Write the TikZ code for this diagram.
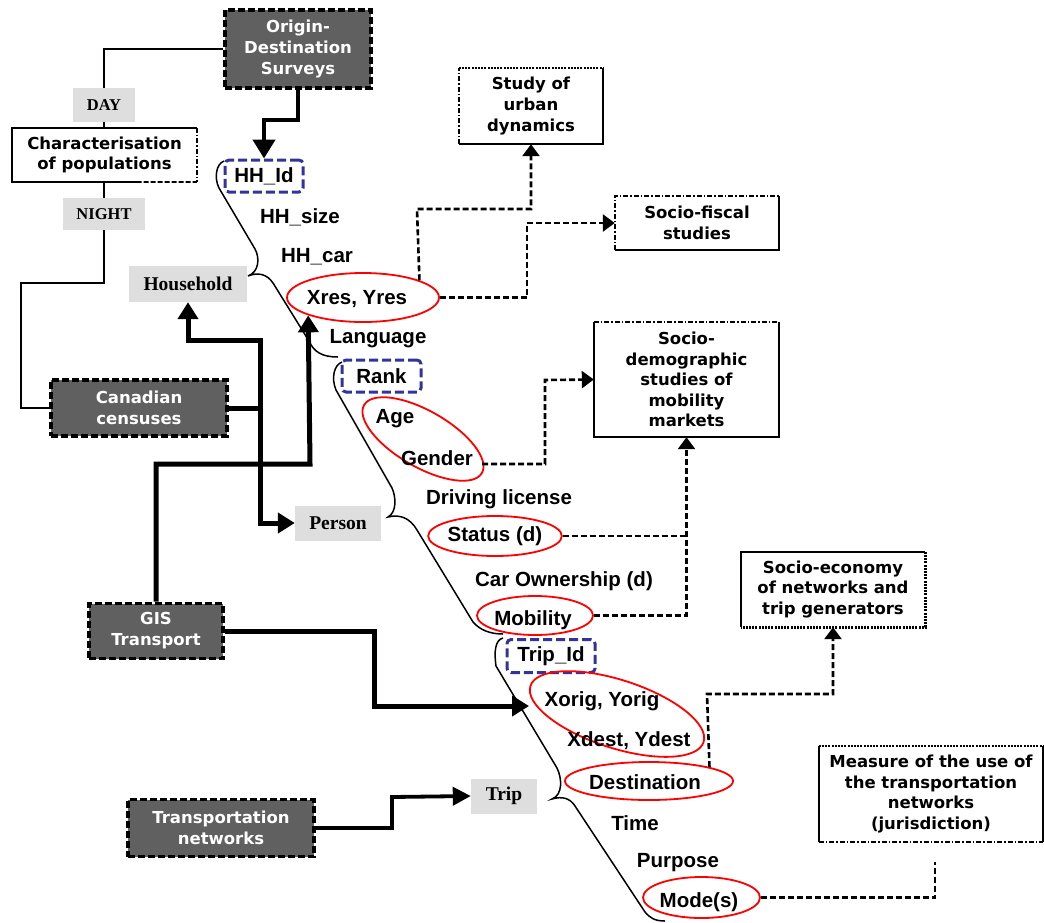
\documentclass[tikz,border=0pt]{standalone}
\usepackage{fontspec}
\setmainfont{Liberation Sans}
\newfontfamily\verd{DejaVu Sans}
\newfontfamily\tms{Liberation Serif}
\usetikzlibrary{shapes.geometric,arrows.meta,calc}
\definecolor{dgray}{RGB}{96,96,96}
\definecolor{lgray}{RGB}{222,222,222}
\definecolor{kblue}{RGB}{51,51,153}
\begin{document}
\begin{tikzpicture}[x=1pt,y=-1pt,
  darkbox/.style={fill=dgray, draw=black, line width=3.8pt, dash pattern=on 7pt off 3pt, text=white,
    font={\verd\bfseries\fontsize{16.5}{21}\selectfont}, align=center, inner sep=0pt},
  graylab/.style={fill=lgray, draw=none, inner sep=0pt, font={\tms\bfseries\fontsize{19.5}{22}\selectfont}},
  smalllab/.style={graylab, font={\tms\bfseries\fontsize{16.5}{20}\selectfont}},
  obox/.style={fill=white, draw=none, align=center, inner sep=0pt,
    font={\verd\bfseries\fontsize{16.5}{20.6}\selectfont}},
  attr/.style={inner sep=0pt, font={\bfseries\fontsize{20.5}{24}\selectfont}},
  keybox/.style={attr, draw=kblue, line width=3pt, dash pattern=on 9pt off 4pt, rounded corners=4pt},
  oval/.style={attr, ellipse, draw=red, line width=1.8pt},
  sedge/.style={line width=2.2pt},
  ddedge/.style={line width=2.2pt, dash pattern=on 5pt off 2pt on 1.5pt off 2pt},
  dotedge/.style={line width=2.6pt, dash pattern=on 2pt off 1.2pt},
  brace/.style={line width=1.5pt},
  thin/.style={line width=2pt},
  bigarrow/.style={line width=5pt, -{Triangle[length=17pt,width=20pt]}},
  odsarrow/.style={line width=4.5pt, -{Triangle[length=19pt,width=22pt]}},
  medarrow/.style={line width=3.8pt, -{Triangle[length=18pt,width=18pt]}},
  darrow/.style={line width=2.6pt, dash pattern=on 6pt off 3pt, -{Triangle[length=12pt,width=17pt]}},
  dline/.style={line width=2.6pt, dash pattern=on 6pt off 3pt}
]
\useasboundingbox (0,0) rectangle (1044,922);

% ---------- source boxes ----------
\node[darkbox, minimum width=146pt, minimum height=78pt] (ods) at (298,49) {Origin-\\Destination\\Surveys};
\node[darkbox, minimum width=176pt, minimum height=56pt] (cc) at (139,408) {Canadian\\censuses};
\node[darkbox, minimum width=134pt, minimum height=55pt] (gis) at (156,631) {GIS\\Transport};
\node[darkbox, minimum width=186pt, minimum height=57pt] (tn) at (221,828) {Transportation\\networks};

% ---------- gray labels ----------
\node[smalllab, minimum width=62pt, minimum height=34pt] (day) at (104,105) {DAY};
\node[smalllab, minimum width=82pt, minimum height=32pt] (night) at (104,214) {NIGHT};
\node[graylab, minimum width=118pt, minimum height=36pt] (hh) at (188,284) {Household};
\node[graylab, minimum width=86pt, minimum height=35pt] (person) at (338,523) {Person};
\node[graylab, minimum width=66pt, minimum height=35pt] (trip) at (504,796) {Trip};

% ---------- characterisation box ----------
\node[obox, minimum width=185pt, minimum height=54pt] (char) at (104.5,155) {Characterisation\\of populations};
\draw[sedge] (char.south east) -- (char.south west) -- (char.north west) -- (char.north east);
\draw[ddedge] (char.north east) -- (char.south east);
\draw[white, line width=2.8pt, dash pattern=on 2pt off 5pt] ($(char.south west)!0.7!(char.south east)$) -- (char.south east);

% ---------- outcome boxes ----------
\node[obox, minimum width=144pt, minimum height=76pt] (study) at (531,106) {Study of\\urban\\dynamics};
\draw[sedge] (study.north east) -- (study.south east) -- (study.south west);
\draw[ddedge] (study.south west) -- (study.north west);
\draw[dotedge] (study.north west) -- (study.north east);

\node[obox, minimum width=164pt, minimum height=54pt] (fiscal) at (697,223) {Socio-fiscal\\studies};
\draw[sedge] (fiscal.north east) -- (fiscal.south east) -- (fiscal.south west);
\draw[ddedge] (fiscal.south west) -- (fiscal.north west) -- (fiscal.north east);

\node[obox, minimum width=185pt, minimum height=115pt] (socdemo) at (686.5,379.5) {Socio-\\demographic\\studies of\\mobility\\markets};
\draw[sedge] (socdemo.north east) -- (socdemo.south east) -- (socdemo.south west) -- (socdemo.north west);
\draw[ddedge] (socdemo.north west) -- (socdemo.north east);

\node[obox, minimum width=184pt, minimum height=75pt] (socecon) at (833,589.5) {Socio-economy\\of networks and\\trip generators};
\draw[sedge] (socecon.south west) -- (socecon.north west) -- (socecon.north east);
\draw[dotedge] (socecon.north east) -- (socecon.south east) -- (socecon.south west);

\node[obox, minimum width=224pt, minimum height=96pt] (measure) at (931,794) {Measure of the use of\\the transportation\\networks\\(jurisdiction)};
\draw[sedge] (measure.north west) -- (measure.south west);
\draw[sedge] (measure.north east) -- (measure.south east);
\draw[dotedge] (measure.north west) -- (measure.north east);
\draw[ddedge] (measure.south west) -- (measure.south east);

% ---------- attributes ----------
\node[keybox, minimum width=78pt, minimum height=32pt] (hhid) at (264,176) {HH\_Id};
\node[attr] (hhsize) at (300,217) {HH\_size};
\node[attr] (hhcar) at (317,257) {HH\_car};
\node[oval, minimum width=152pt, minimum height=49pt] (xres) at (363,297.5) {};
\node[attr] (xrestxt) at (357,299) {Xres, Yres};
\node[attr] (lang) at (378,339) {Language};
\node[keybox, minimum width=79pt, minimum height=32pt] (rank) at (381.5,376) {Rank};
\node[oval, minimum width=136pt, minimum height=56pt, rotate=-30] (ag) at (423,439) {};
\node[attr] (age) at (395,419) {Age};
\node[attr] (gender) at (437,458) {Gender};
\node[attr] (drive) at (499,499) {Driving license};
\node[oval, minimum width=132pt, minimum height=40pt] (status) at (495,536) {Status (d)};
\node[attr] (carown) at (564,581) {Car Ownership (d)};
\node[oval, minimum width=116pt, minimum height=39pt] (mob) at (535,615.5) {};
\node[attr] (mobtxt) at (533,620) {Mobility};
\node[keybox, minimum width=88pt, minimum height=33pt] (tripid) at (551,656) {Trip\_Id};
\node[oval, minimum width=182pt, minimum height=68pt, rotate=-18] (xo) at (617,714) {};
\node[attr] (xorig) at (602,701) {Xorig, Yorig};
\node[attr] (xdest) at (629,741) {Xdest, Ydest};
\node[oval, minimum width=168pt, minimum height=38pt] (dest) at (649,781) {};
\node[attr] (desttxt) at (645,782) {Destination};
\node[attr] (time) at (635,823) {Time};
\node[attr] (purpose) at (678,863) {Purpose};
\node[oval, minimum width=117pt, minimum height=41pt] (modes) at (701.5,897.5) {};
\node[attr] (modestxt) at (699,902) {Mode(s)};

% ---------- braces ----------
\draw[brace] (224,161) .. controls (216,164) and (214,178) .. (219,188) -- (255,249)
  .. controls (260,258) and (259,272) .. (248,276)
  .. controls (258,272) and (267,274) .. (273,283) -- (309,341)
  .. controls (314,352) and (322,357) .. (338,357);
\draw[brace] (342,362) .. controls (334,365) and (331,378) .. (336,390) -- (392,488)
  .. controls (396,497) and (397,512) .. (388,517)
  .. controls (400,514) and (410,518) .. (417,530) -- (473,622)
  .. controls (480,630) and (490,634) .. (503,634);
\draw[brace] (503,638) .. controls (495,640) and (494,652) .. (496,666) -- (557,768)
  .. controls (562,778) and (563,795) .. (552,799)
  .. controls (562,796) and (570,798) .. (575,806) -- (645,912)
  .. controls (650,918) and (655,921) .. (665,921);

% ---------- thin day/night line ----------
\draw[thin] (ods.west) -| (day.north);
\draw[thin] (day.south) -- (char.north -| day.south);
\draw[thin] (char.south -| night.north) -- (night.north);
\coordinate (nl) at (21,283);
\draw[thin] (night.south) |- (nl) |- (cc.west);

% ---------- thick source connectors ----------
\draw[odsarrow] (ods.south) -- ++(0,30) -| (hhid.north);
\coordinate (c1) at (260,340);
\draw[bigarrow] (cc.east) -| (c1) -| (hh.south);
\draw[bigarrow] (cc.east) -- (260,408) |- (person.west);
\coordinate (g1) at (310,464);
\draw[bigarrow] (gis.north) |- (g1) -- (xres.198.4);
\coordinate (xoin) at (529,706);
\coordinate (g2) at (374,706);
\draw[bigarrow] (gis.east) -| (g2) -- (xoin);
\coordinate (t1) at (392,797);
\draw[medarrow] (tn.east) -| (t1) -- (trip.west);

% ---------- dashed connectors ----------
\coordinate (s1) at (417,209);
\draw[darrow] (xres.17.5) -- (s1) -| (study.south);
\coordinate (f1) at (527,223);
\draw[darrow] (xres.east) -| (f1) -- (fiscal.west);
\coordinate (gout) at (482,464);
\coordinate (d1) at (545,380);
\draw[darrow] (gout) -| (d1) -- (socdemo.west);
\draw[dline] (status.east) -- (status.east -| socdemo.south);
\draw[darrow] (mob.east) -| (socdemo.south);
\coordinate (e1) at (707,694);
\draw[darrow] (dest.13.6) -- (e1) -| (socecon.south);
\coordinate (mend) at (935,862);
\draw[dline] (modes.east) -| (mend);
\end{tikzpicture}
\end{document}
